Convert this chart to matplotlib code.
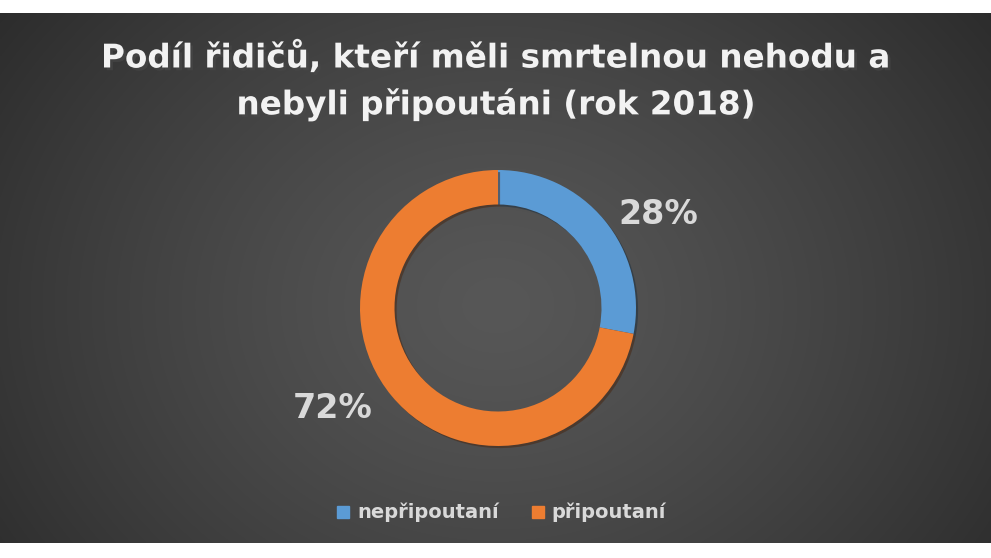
import numpy as np
import matplotlib
matplotlib.use("Agg")
import matplotlib.pyplot as plt
import matplotlib.patheffects as pe

categories = ["nepřipoutaní", "připoutaní"]
values = [28, 72]
label_texts = ["28%", "72%"]
colors = ["#5b9bd5", "#ed7d31"]
title = "Podíl řidičů, kteří měli smrtelnou nehodu a\nnebyli připoutáni (rok 2018)"

FONT = "DejaVu Sans"
W, H = 991, 558
fig = plt.figure(figsize=(W / 100, H / 100), dpi=100)
fig.patch.set_facecolor("white")

# background panel with radial gradient
top_px, bot_px = 13, 543
bg = fig.add_axes([0, 1 - bot_px / H, 1, (bot_px - top_px) / H])
ny, nx = 300, 560
yy, xx = np.mgrid[0:ny, 0:nx]
cx, cy = nx * 0.5, ny * 0.55
r = np.sqrt(((xx - cx) / (nx * 0.62)) ** 2 + ((yy - cy) / (ny * 0.95)) ** 2)
r = np.clip(r, 0, 1)
c0, c1 = 0x57 / 255, 0x2c / 255
g = c0 + (c1 - c0) * r ** 1.3
img = np.dstack([g, g, g])
bg.imshow(img, aspect="auto", extent=[0, 1, 0, 1], interpolation="bilinear")
bg.set_axis_off()

# donut
cxp, cyp, R = 498, 308, 138
ax = fig.add_axes([(cxp - R) / W, 1 - (cyp + R) / H, 2 * R / W, 2 * R / H])
wedges, _ = ax.pie(values, colors=colors, startangle=90, counterclock=False,
                   radius=1.0, wedgeprops=dict(width=0.25, edgecolor="none"))
for w in wedges:
    w.set_path_effects([pe.SimplePatchShadow(offset=(1.5, -1.5), alpha=0.5), pe.Normal()])
ax.set_xlim(-1, 1)
ax.set_ylim(-1, 1)
ax.set_aspect("equal")
ax.set_axis_off()

# data labels
lab_pos = [(658, 214), (333, 408)]
for t, (x, y) in zip(label_texts, lab_pos):
    fig.text(x / W, 1 - y / H, t, ha="center", va="center", fontsize=24,
             fontweight="bold", color="#d9d9d9", family=FONT)

# title
ttl = fig.text(496 / W, 1 - 80 / H, title, ha="center", va="center", fontsize=23.5,
               fontweight="bold", color="#f2f2f2", family=FONT,
               linespacing=1.45)
ttl.set_path_effects([pe.SimplePatchShadow(offset=(2, -2), alpha=0.6), pe.Normal()])

# legend
leg_y = 1 - 512 / H
sq = 12
for (x_sq, x_txt), cat, col in zip([(343, 357), (538, 551)], categories, colors):
    fig.patches.append(plt.Rectangle(((x_sq - sq / 2) / W, leg_y - sq / 2 / H), sq / W, sq / H,
                                     transform=fig.transFigure, color=col))
    fig.text(x_txt / W, leg_y, cat, ha="left", va="center", fontsize=14,
             fontweight="bold", color="#d9d9d9", family=FONT)

fig.savefig("out.png", dpi=100, facecolor=fig.get_facecolor())
